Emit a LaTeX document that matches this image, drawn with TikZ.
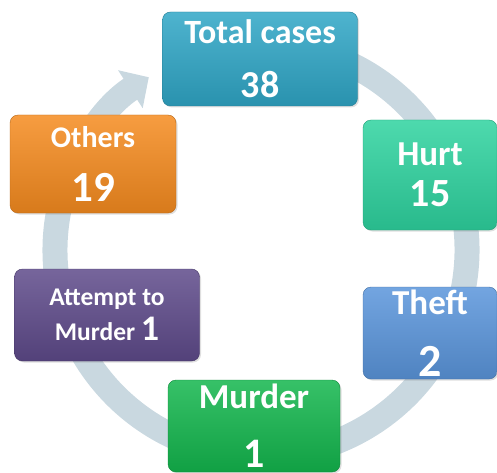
\documentclass[tikz,border=0pt]{standalone}
\usepackage{fontspec}
\setmainfont{Carlito}
\usepackage{tikz}
\usetikzlibrary{positioning,arrows.meta,shadows}
\usepackage{xcolor}
\pgfdeclarelayer{bg}
\pgfsetlayers{bg,main}

\definecolor{ringcol}{HTML}{C9D8E0}
\definecolor{totcol}{HTML}{2FA6C6}
\definecolor{hurtcol}{HTML}{2ED39F}
\definecolor{theftcol}{HTML}{5A95DB}
\definecolor{murdcol}{HTML}{13B64D}
\definecolor{attcol}{HTML}{5E4A8A}
\definecolor{othcol}{HTML}{F58B1F}

\begin{document}
\begin{tikzpicture}[x=1pt, y=1pt,
  casebox/.style={rectangle, rounded corners=8pt, draw=#1!75!black, top color=#1!85!white, bottom color=#1!88!black, text=white, align=center, inner sep=0pt, drop shadow={opacity=0.25, shadow xshift=1.5pt, shadow yshift=-1.5pt}}]
%

%help grid
%\draw[help lines] (0,0) grid[step=50] (497,472);
\useasboundingbox (0,0) rectangle (497,472);

%%% centre of the cycle
\coordinate (hub) at (261,222);

%%% TOTAL
\node [casebox=totcol, minimum width=195pt, minimum height=94pt, font=\bfseries\fontsize{34}{54}\selectfont] (total) at (260,413) {Total cases\\ {\fontsize{38}{54}\selectfont 38}};

%%% HURT
\node [casebox=hurtcol, minimum width=134pt, minimum height=110pt, font=\bfseries\fontsize{35}{41}\selectfont] (hurt) at (430,297) {Hurt\\ {\fontsize{40}{41}\selectfont 15}};

%%% THEFT
\node [casebox=theftcol, minimum width=134pt, minimum height=92pt, font=\bfseries\fontsize{35}{62}\selectfont] (theft) at (430,139) {Theft\\ {\fontsize{46}{62}\selectfont 2}};

%%% MURDER
\node [casebox=murdcol, minimum width=172pt, minimum height=92pt, font=\bfseries\fontsize{35}{59}\selectfont] (murder) at (254,46) {Murder\\ {\fontsize{42}{59}\selectfont 1}};

%%% ATTEMPT TO MURDER
\node [casebox=attcol, minimum width=185pt, minimum height=92pt, font=\bfseries\fontsize{25.5}{35}\selectfont] (attempt) at (107,157) {Attempt to\\ Murder {\fontsize{36}{35}\selectfont 1}};

%%% OTHERS
\node [casebox=othcol, minimum width=166pt, minimum height=98pt, font=\bfseries\fontsize{30}{54}\selectfont] (others) at (93,308) {Others\\ {\fontsize{43}{54}\selectfont 19}};

%%% cycle arrow, behind the boxes
\begin{pgfonlayer}{bg}
\draw [line width=25pt, ringcol, -{Triangle[width=44pt, length=22pt]}] (hub) ++(80:206) arc[start angle=80, end angle=-237, radius=206];
\end{pgfonlayer}

\end{tikzpicture}
\end{document}
